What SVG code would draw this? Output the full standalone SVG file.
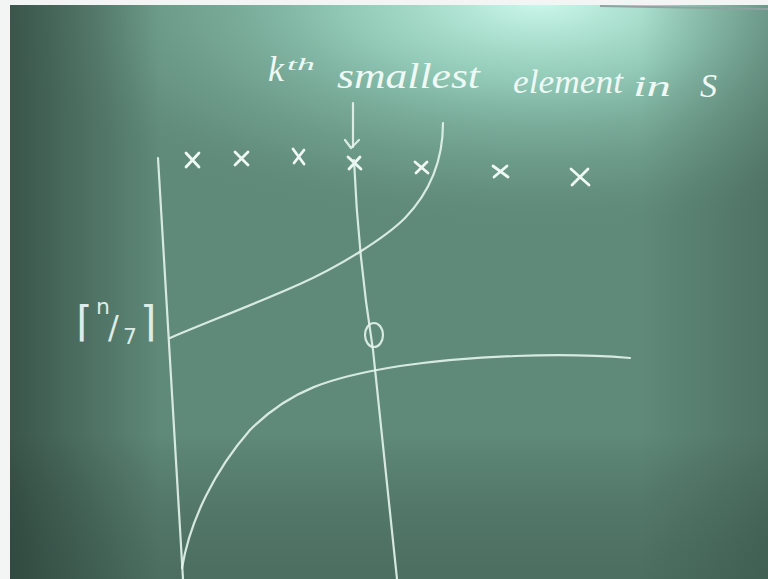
<svg xmlns="http://www.w3.org/2000/svg" width="768" height="579" viewBox="0 0 768 579">
<defs>
<style>
.chalk{fill:none;stroke:#e4f4ee;stroke-width:2.2;stroke-linecap:round;stroke-linejoin:round;opacity:0.9}
.cross{fill:none;stroke:#eef9f5;stroke-width:2.8;stroke-linecap:round}
.hand{fill:#eef9f5;font-family:"Liberation Serif","DejaVu Serif",serif;font-style:italic}
.lbl{fill:#dcece6;font-family:"DejaVu Sans","Liberation Sans",sans-serif}
</style>
<radialGradient id="glow" cx="540" cy="0" r="560" gradientUnits="userSpaceOnUse" gradientTransform="translate(540 0) scale(1 0.42) translate(-540 0)">
<stop offset="0" stop-color="#d2fff2" stop-opacity="0.95"/>
<stop offset="0.35" stop-color="#a6e4d0" stop-opacity="0.7"/>
<stop offset="0.75" stop-color="#7fb3a0" stop-opacity="0.3"/>
<stop offset="1" stop-color="#5d8777" stop-opacity="0"/>
</radialGradient>
<linearGradient id="leftdark" x1="10" y1="0" x2="160" y2="0" gradientUnits="userSpaceOnUse">
<stop offset="0" stop-color="#2a3f37" stop-opacity="0.7"/>
<stop offset="1" stop-color="#2a3f37" stop-opacity="0"/>
</linearGradient>
<linearGradient id="topfade" x1="0" y1="0" x2="0" y2="579" gradientUnits="userSpaceOnUse">
<stop offset="0" stop-color="#000" stop-opacity="0"/>
<stop offset="0.75" stop-color="#000" stop-opacity="0"/>
<stop offset="1" stop-color="#1e3029" stop-opacity="0.3"/>
</linearGradient>
<linearGradient id="rightdark" x1="640" y1="0" x2="768" y2="0" gradientUnits="userSpaceOnUse">
<stop offset="0" stop-color="#2a3f37" stop-opacity="0"/>
<stop offset="1" stop-color="#2a3f37" stop-opacity="0.3"/>
</linearGradient>
</defs>
<g id="board">
<rect x="0" y="0" width="768" height="579" fill="#f2f5f4"/>
<rect x="10" y="5" width="758" height="574" fill="#5f8979"/>
<rect x="10" y="5" width="758" height="574" fill="url(#glow)"/>
<rect x="10" y="5" width="758" height="574" fill="url(#leftdark)"/>
<rect x="10" y="5" width="758" height="574" fill="url(#rightdark)"/>
<rect x="10" y="5" width="758" height="574" fill="url(#topfade)"/>
<line x1="600" y1="6" x2="768" y2="9" stroke="#8fa3a0" stroke-width="2"/>
</g>
<g id="title">
<text class="hand" x="268" y="81" font-size="36">k</text>
<text class="hand" x="287" y="70" font-size="17" textLength="28" lengthAdjust="spacingAndGlyphs">th</text>
<text class="hand" x="337" y="88" font-size="36" textLength="143" lengthAdjust="spacingAndGlyphs">smallest</text>
<text class="hand" x="513" y="93" font-size="33" textLength="110" lengthAdjust="spacingAndGlyphs">element</text>
<text class="hand" x="633" y="96" font-size="30" textLength="38" lengthAdjust="spacingAndGlyphs">in</text>
<text class="hand" x="700" y="97" font-size="34">S</text>
</g>
<g id="label-ceil">
<text class="lbl" x="76" y="336" font-size="42">⌈</text>
<text class="lbl" x="96" y="314" font-size="22">n</text>
<text class="lbl" x="108" y="338" font-size="32">/</text>
<text class="lbl" x="123" y="344" font-size="22">7</text>
<text class="lbl" x="140" y="336" font-size="42">⌉</text>
</g>
<g id="elements">
<path class="cross" d="M186,153 L199,167 M199,153 L186,167"/>
<path class="cross" d="M235,152 L248,165 M248,152 L235,165"/>
<path class="cross" d="M293,149 L304,164 M304,150 L294,163"/>
<path class="cross" d="M348,157 L361,169 M360,157 L349,169"/>
<path class="cross" d="M415,162 L428,173 M427,162 L416,173"/>
<path class="cross" d="M493,166 L508,177 M507,166 L494,177"/>
<path class="cross" d="M571,169 L589,185 M588,169 L572,185"/>
</g>
<g id="connectors">
<line class="chalk" x1="158" y1="158" x2="183" y2="579"/>
<path class="chalk" d="M353,103 L353,147"/>
<polyline class="chalk" points="345,140 351,148 359,140"/>
<path class="chalk" d="M354,160 C357,230 365,300 373,350 L397,579"/>
<ellipse class="chalk" cx="374" cy="335" rx="9" ry="12"/>
<path class="chalk" d="M170,338 C200,325 260,302 300,284 C340,266 385,238 405,218 C430,192 443,160 443,123"/>
<path class="chalk" d="M182,568 C190,520 215,470 250,430 C290,390 330,377 400,366 C470,356 560,352 630,358"/>
</g>
</svg>
